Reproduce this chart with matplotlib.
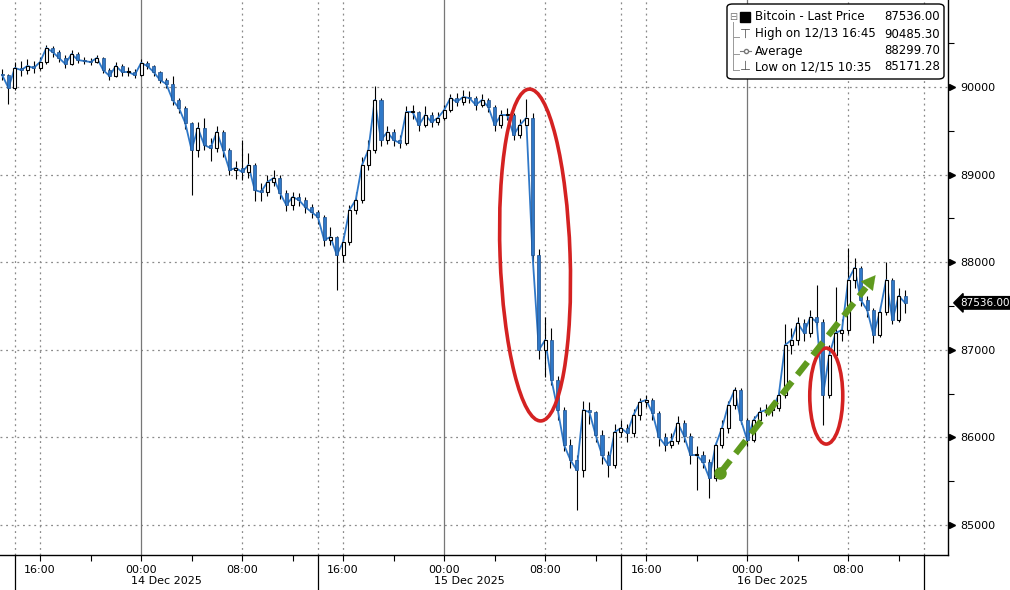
import numpy as np
import matplotlib
matplotlib.use("Agg")
import matplotlib.pyplot as plt
from matplotlib.patches import Ellipse, FancyBboxPatch
import matplotlib.transforms as mtransforms

# 30-minute bars, hours counted from 14 Dec 2025 00:00
start_hour = -11.0
step = 0.5

close = [90137, 89989, 90217, 90194, 90240, 90217, 90285, 90445, 90400, 90331,
         90263, 90377, 90308, 90297, 90285, 90331, 90194, 90126, 90240, 90171,
         90171, 90137, 90274, 90240, 90171, 90080, 90034, 89852, 89760, 89589,
         89281, 89532, 89338, 89304, 89486, 89281, 89052, 89075, 89030, 89110,
         88824, 88801, 88915, 88961, 88790, 88653, 88744, 88710, 88630, 88573,
         88516, 88253, 88288, 88082, 88230, 88596, 88710, 89110, 89281, 89852,
         89395, 89486, 89395, 89361, 89715, 89715, 89566, 89680, 89600, 89646,
         89737, 89874, 89829, 89886, 89874, 89795, 89852, 89772, 89566, 89680,
         89680, 89452, 89566, 89646, 88082, 86998, 87112, 86655, 86313, 85913,
         85742, 85628, 86313, 86290, 86027, 85799, 85685, 86061, 86107, 86050,
         86256, 86404, 86427, 86278, 86004, 85913, 85959, 86164, 86016, 85799,
         85799, 85719, 85536, 85913, 86107, 86370, 86541, 86198, 85970, 86198,
         86290, 86313, 86335, 86484, 87055, 87112, 87306, 87192, 87374, 87317,
         86484, 86940, 87192, 87226, 87797, 87934, 87568, 87454, 87169, 87431,
         87797, 87340, 87614, 87536]

high = [90200, 90150, 90290, 90300, 90320, 90300, 90340, 90485, 90470, 90420,
        90360, 90420, 90400, 90340, 90330, 90370, 90340, 90220, 90290, 90260,
        90230, 90200, 90320, 90300, 90250, 90180, 90100, 90120, 89880, 89780,
        89600, 89600, 89650, 89420, 89560, 89510, 89300, 89150, 89400, 89250,
        89130, 88900, 88990, 89050, 88990, 88820, 88800, 88790, 88740, 88660,
        88600, 88540, 88400, 88300, 88300, 88650, 88800, 89200, 89400, 90010,
        89880, 89560, 89520, 89450, 89780, 89800, 89730, 89780, 89720, 89720,
        89790, 89920, 89930, 89960, 89950, 89900, 89920, 89880, 89790, 89740,
        89760, 89700, 89640, 89860, 89700, 88150, 87370, 87250, 86700, 86350,
        85980, 85800, 86420, 86400, 86300, 86080, 85850, 86150, 86200, 86150,
        86320, 86450, 86480, 86450, 86300, 86050, 86050, 86250, 86200, 86050,
        85900, 85850, 85750, 85950, 86200, 86420, 86580, 86560, 86220, 86250,
        86350, 86380, 86400, 86550, 87300, 87250, 87380, 87350, 87450, 87740,
        87350, 87050, 87720, 87350, 88160, 88050, 87960, 87620, 87480, 87500,
        88000, 87820, 87700, 87680]

low = [90080, 89810, 89960, 90120, 90150, 90160, 90190, 90260, 90340, 90280,
       90220, 90250, 90270, 90260, 90250, 90270, 90160, 90080, 90110, 90130,
       90120, 90100, 90120, 90200, 90130, 90050, 89990, 89790, 89700, 89520,
       88770, 89200, 89280, 89150, 89260, 89200, 88990, 88950, 88940, 88960,
       88700, 88700, 88760, 88870, 88720, 88580, 88600, 88640, 88560, 88500,
       88440, 88180, 88200, 87680, 88000, 88200, 88550, 88680, 89050, 89250,
       89330, 89350, 89330, 89300, 89340, 89640, 89500, 89540, 89540, 89570,
       89620, 89720, 89780, 89800, 89820, 89740, 89770, 89720, 89500, 89530,
       89620, 89400, 89420, 89530, 88000, 86900, 86690, 86600, 86200, 85850,
       85650, 85171, 85550, 86150, 85950, 85700, 85550, 85650, 86000, 85950,
       86000, 86200, 86350, 86200, 85900, 85850, 85880, 85920, 85950, 85700,
       85400, 85650, 85308, 85500, 85880, 86050, 86330, 86150, 85900, 85950,
       86180, 86240, 86250, 86300, 86450, 86950, 87050, 87100, 87150, 87250,
       86141, 86450, 86900, 87100, 87180, 87700, 87500, 87380, 87080, 87150,
       87400, 87300, 87320, 87420]

legend_rows = ["Bitcoin - Last Price", "High on 12/13 16:45", "Average", "Low on 12/15 10:35"]
legend_vals = ["87536.00", "90485.30", "88299.70", "85171.28"]
last_price = 87536.00

y_ticks = [85000, 86000, 87000, 88000, 89000, 90000]
tick_hours = [-8, 0, 8, 16, 24, 32, 40, 48, 56]
tick_names = ["16:00", "00:00", "08:00"] * 3
day_names = ["14 Dec 2025", "15 Dec 2025", "16 Dec 2025"]
day_seps = [-10, 14, 38, 62]

BLUE = "#2f78c8"
RED = "#d42222"
GREEN = "#5f9a1e"
GRID = "#8a8a8a"

fig = plt.figure(figsize=(10.1, 5.9), dpi=100)
ax = fig.add_axes([0, 35 / 590, 948 / 1010, 555 / 590])

hours = start_hour + step * np.arange(len(close))
opens = [close[0] + 13] + close[:-1]

# grid
for y in y_ticks:
    ax.axhline(y, color=GRID, lw=0.9, ls=(0, (1.5, 3)), zorder=0)
for h in [-10, -8, 8, 14, 16, 32, 38, 40, 56, 62]:
    ax.axvline(h, color=GRID, lw=0.9, ls=(0, (1.5, 3)), zorder=0)
for h in [0, 24, 48]:
    ax.axvline(h, color="#777777", lw=0.9, zorder=0)

# candles
ax.plot(hours, close, color=BLUE, lw=1.3, zorder=2)
ax.vlines(hours, low, high, color="black", lw=0.8, zorder=1)
for x, o, c in zip(hours, opens, close):
    if c >= o:
        ax.bar(x, max(c - o, 8), bottom=o, width=0.24, color="white",
               edgecolor="black", lw=0.8, zorder=3)
    else:
        ax.bar(x, c - o, bottom=o, width=0.24, color=BLUE,
               edgecolor="#1f4f8a", lw=0.5, zorder=3)

# annotations (ellipses sized in inches, anchored at data points)
def ellipse_at(cx, cy, w_px, h_px, angle):
    tr = fig.dpi_scale_trans + mtransforms.ScaledTranslation(cx, cy, ax.transData)
    return Ellipse((0, 0), w_px / 100, h_px / 100, angle=angle, fill=False,
                   ec=RED, lw=2.6, zorder=5, transform=tr)

ax.add_patch(ellipse_at(31.2, 88082, 70, 332, 2))
ax.add_patch(ellipse_at(54.26, 86472, 33, 96, 0))
ax.plot([45.86, 57.4], [85593, 87710], color=GREEN, lw=4.5, ls=(0, (2.6, 1.4)),
        zorder=6, solid_capstyle="butt")
ax.plot([45.86], [85593], "o", color=GREEN, ms=8, zorder=6)
ax.annotate("", xy=(58.3, 87877), xytext=(57.0, 87640),
            arrowprops=dict(arrowstyle="-|>,head_length=1.0,head_width=0.55",
                            color=GREEN, lw=0.1), zorder=6)

# axes styling
for s in ["left", "top"]:
    ax.spines[s].set_visible(False)
ax.spines["right"].set_linewidth(1.0)
ax.spines["bottom"].set_linewidth(1.0)

ax.yaxis.tick_right()
ax.set_yticks(y_ticks)
ax.set_yticklabels([str(v) for v in y_ticks], fontsize=8)
ax.set_yticks([85500, 86500, 87500, 88500, 89500, 90500], minor=True)
ax.tick_params(axis="y", which="major", length=0, pad=9)
ax.tick_params(axis="y", which="minor", length=4, width=0.8, direction="out")
ytr = mtransforms.blended_transform_factory(ax.transAxes, ax.transData)
ax.plot([1.004] * len(y_ticks), y_ticks, marker=">", ms=5, ls="none", color="black",
        transform=ytr, clip_on=False)

ax.set_xticks(tick_hours)
ax.set_xticklabels(tick_names, fontsize=8)
ax.set_xticks([h + 4 for h in tick_hours] + [-12], minor=True)
ax.tick_params(axis="x", which="major", length=4, width=0.8, pad=3)
ax.tick_params(axis="x", which="minor", length=4, width=0.8)

ax.set_xlim(-11.17, 63.9)
ax.set_ylim(84658, 90993)

xtr = mtransforms.blended_transform_factory(ax.transData, ax.transAxes)
for h in day_seps:
    ax.plot([h, h], [0, -0.07], color="black", lw=0.9, transform=xtr, clip_on=False)
for i, name in enumerate(day_names):
    mid = (day_seps[i] + day_seps[i + 1]) / 2
    ax.text(mid, -0.047, name, transform=xtr, ha="center", va="center", fontsize=8)

# last price tag
ax.text(1.013, last_price, f"{last_price:.2f}", transform=ytr, color="white",
        fontsize=7.5, va="center", ha="left",
        bbox=dict(boxstyle="larrow,pad=0.12", fc="black", ec="black"))

# legend box
def fx(px):
    return px / 948

def fy(py):
    return 1 - py / 555

box = FancyBboxPatch((fx(727), fy(79)), fx(944) - fx(727), fy(4) - fy(79),
                     boxstyle="round,pad=0,rounding_size=0.006", transform=ax.transAxes,
                     fc="white", ec="black", lw=1.0, zorder=10)
ax.add_patch(box)
row_y = [17, 34, 51, 67]
for ry, name, val in zip(row_y, legend_rows, legend_vals):
    ax.text(fx(755), fy(ry), name, transform=ax.transAxes, fontsize=8.5,
            va="center", ha="left", zorder=11)
    ax.text(fx(940), fy(ry), val, transform=ax.transAxes, fontsize=8.5,
            va="center", ha="right", zorder=11)
# tree icons
ax.plot([fx(733), fx(733)], [fy(22), fy(70)], color="#999999", lw=0.7,
        transform=ax.transAxes, zorder=11)
for ry in row_y[1:]:
    ax.plot([fx(733), fx(739)], [fy(ry + 3), fy(ry + 3)], color="#999999", lw=0.7,
            transform=ax.transAxes, zorder=11)
ax.text(fx(733), fy(row_y[0]), "\u229f", transform=ax.transAxes, fontsize=7,
        ha="center", va="center", color="#777777", zorder=11)
ax.plot([fx(745)], [fy(row_y[0])], marker="s", ms=7, color="black",
        transform=ax.transAxes, zorder=11)
ax.text(fx(745), fy(row_y[1]), "\u22a4", transform=ax.transAxes, fontsize=9,
        ha="center", va="center", color="#555555", zorder=11)
ax.plot([fx(740), fx(751)], [fy(row_y[2]), fy(row_y[2])], color="#777777", lw=0.8,
        transform=ax.transAxes, zorder=11)
ax.plot([fx(745.5)], [fy(row_y[2])], marker="o", ms=3, mfc="white", mec="#777777",
        transform=ax.transAxes, zorder=12)
ax.text(fx(745), fy(row_y[3]), "\u22a5", transform=ax.transAxes, fontsize=9,
        ha="center", va="center", color="#555555", zorder=11)

fig.savefig("out.png", dpi=100)
